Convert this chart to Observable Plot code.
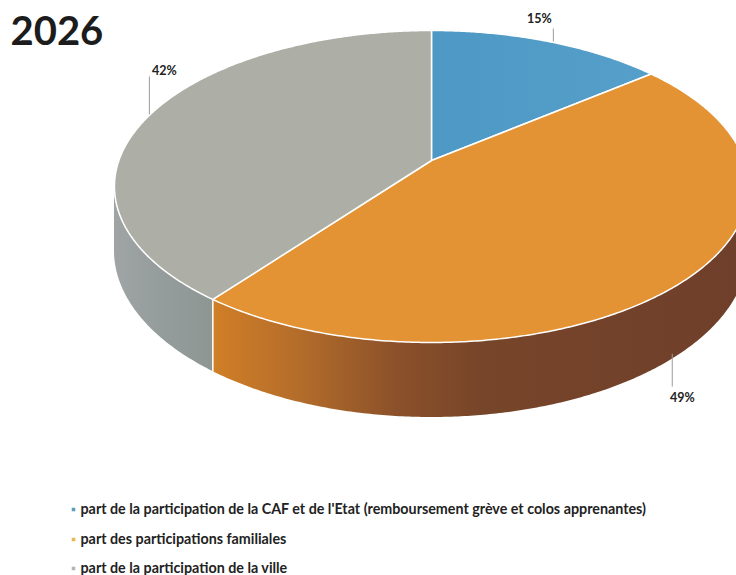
<!DOCTYPE html>
<html lang="fr">
<head>
<meta charset="utf-8">
<script src="https://cdn.jsdelivr.net/npm/d3@7"></script>
<script src="https://cdn.jsdelivr.net/npm/@observablehq/plot@0.6"></script>
<style>html,body{margin:0;padding:0;background:#fff}svg{display:block}</style>
</head>
<body>
<div id="chart"></div>
<script>
// ---- data
const chartTitle = "2026";
const categories = [
  "part de la participation de la CAF et de l'Etat (remboursement grève et colos apprenantes)",
  "part des participations familiales",
  "part de la participation de la ville"
];
const values = [15, 49, 42];

// ---- styles
const topColors = ["url(#topBlue)", "#e39334", "#adafa7"];
const wallColors = [null, "url(#wallOrange)", "url(#wallGrey)"];
const bulletColors = ["#5d9fb8", "#e8b84e", "#b4b6b0"];

// ---- label placement (same order as values)
const labelNudgeX = [5, -13, -1];
const labelEndY = [28, 386, 76];
const labelTextDx = [-14, 10, 15];
const labelTextY = [18, 397, 70];
const legendY = [509, 539, 568];

// ---- perspective model of the tilted disc
const W = 736, H = 575;
const cx = 431, cy = 160, A = 151.67, B = 312.6, k = 1 / 6, depth = 62.5;
const rad = d => d * Math.PI / 180;
const rimX = t => cx + B * Math.sin(rad(t)) / (1 + k * Math.cos(rad(t)));
const rimY = t => cy - A * Math.cos(rad(t)) / (1 + k * Math.cos(rad(t)));
const wallY = t => rimY(t) + depth / (1 + k * Math.cos(rad(t)));

const total = d3.sum(values);
let acc = 0;
const slices = values.map((v, i) => {
  const start = acc / total * 360;
  acc += v;
  return {i, v, start, end: acc / total * 360, mid: (start + v / total * 180)};
});
const sweep = (a, b) => {
  const n = Math.max(2, Math.ceil(b - a) * 2);
  return d3.range(n + 1).map(j => a + (b - a) * j / n);
};

// visible part of the side wall: between the two silhouette extremes
const wallFrom = 99.6, wallTo = 260.4;

const gradient = (id, stops, x1, x2) => () => {
  const ns = "http://www.w3.org/2000/svg";
  const g = document.createElementNS(ns, "linearGradient");
  g.setAttribute("id", id);
  g.setAttribute("gradientUnits", "userSpaceOnUse");
  g.setAttribute("x1", x1); g.setAttribute("x2", x2);
  g.setAttribute("y1", 0); g.setAttribute("y2", 0);
  for (const [o, c] of stops) {
    const s = document.createElementNS(ns, "stop");
    s.setAttribute("offset", o); s.setAttribute("stop-color", c);
    g.appendChild(s);
  }
  const d = document.createElementNS(ns, "defs");
  d.appendChild(g);
  return d;
};

const marks = [
  gradient("wallOrange", [[0, "#d07f27"], [0.165, "#b36c2a"], [0.356, "#8a502a"], [0.51, "#774529"], [1, "#6f3f2b"]], 214, 736),
  gradient("wallGrey", [[0, "#a0a4a4"], [0.4, "#969d9d"], [1, "#8e9694"]], 115, 214),
  gradient("topBlue", [[0, "#4d98c4"], [1, "#569fcb"]], 431, 652)
];

// side walls
slices.forEach(s => {
  const a = Math.max(s.start, wallFrom), b = Math.min(s.end, wallTo);
  if (b <= a) return;
  marks.push(Plot.areaY(sweep(a, b), {
    x: rimX, y1: rimY, y2: wallY,
    fill: wallColors[s.i], stroke: "none"
  }));
});
// white seam between the two walls
const seam = slices[1].end;
marks.push(Plot.link([seam], {
  x1: rimX, x2: rimX, y1: rimY, y2: wallY,
  stroke: "#ffffff", strokeWidth: 1.5
}));

// top faces
slices.forEach(s => {
  const pts = [null, ...sweep(s.start, s.end), null];
  marks.push(Plot.line(pts, {
    x: t => t === null ? cx : rimX(t),
    y: t => t === null ? cy : rimY(t),
    fill: topColors[s.i], stroke: "#ffffff", strokeWidth: 1.5,
    strokeLinejoin: "round", curve: "linear"
  }));
});

// percent labels with leader lines
const anchors = slices.map(s => {
  const x = rimX(s.mid) + labelNudgeX[s.i];
  return {
    x, textX: x + labelTextDx[s.i], textY: labelTextY[s.i],
    y: s.mid > wallFrom && s.mid < wallTo ? wallY(s.mid) + 3 : rimY(s.mid),
    end: labelEndY[s.i], text: values[s.i] + "%"
  };
});
marks.push(
  Plot.link(anchors, {x1: "x", x2: "x", y1: "y", y2: "end", stroke: "#9b9b9b", strokeWidth: 1}),
  Plot.text(anchors, {
    x: "textX", y: "textY", text: "text",
    fontFamily: "Lato", fontWeight: 700, fontSize: 12.5, fill: "#222"
  })
);

// title
marks.push(Plot.text([chartTitle], {
  x: () => 10, y: () => 32, text: d => d, textAnchor: "start",
  fontFamily: "Lato", fontWeight: 700, fontSize: 40, fill: "#1c1c1c"
}));

// legend
const legend = categories.map((c, i) => ({c, i, y: legendY[i]}));
marks.push(
  Plot.dot(legend, {x: () => 73, y: "y", symbol: "square", r: 2, fill: d => bulletColors[d.i]}),
  Plot.text(legend, {
    x: () => 80, y: "y", text: "c", textAnchor: "start",
    fontFamily: "Lato", fontWeight: 700, fontSize: 14.3, fill: "#222"
  })
);

const chart = Plot.plot({
  width: W, height: H,
  margin: 0,
  x: {type: "linear", domain: [0, W], range: [0, W], axis: null},
  y: {type: "linear", domain: [0, H], range: [0, H], axis: null},
  color: {type: "identity"},
  style: {background: "#fff"},
  marks
});
document.getElementById("chart").appendChild(chart);
</script>
</body>
</html>
